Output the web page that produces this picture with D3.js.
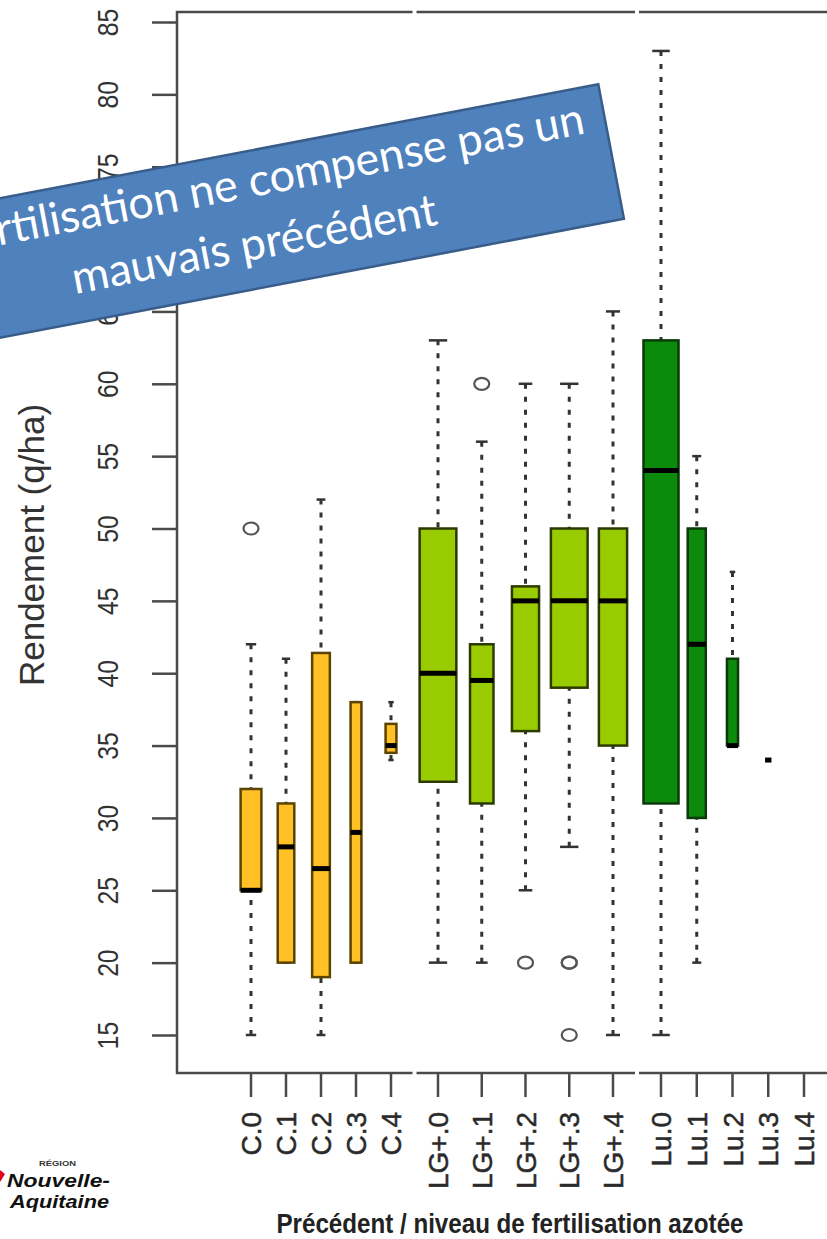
<!DOCTYPE html>
<html>
<head>
<meta charset="utf-8">
<script src="https://cdn.jsdelivr.net/npm/d3@7"></script>
<style>
  body { margin: 0; background: #fff; }
  svg { display: block; }
</style>
</head>
<body>
<div id="chart"></div>
<script>

// ---- data ----
var groups = ["C", "LG+", "Lu"];
var levels = ["0", "1", "2", "3", "4"];
var categories = ["C.0", "C.1", "C.2", "C.3", "C.4",
                  "LG+.0", "LG+.1", "LG+.2", "LG+.3", "LG+.4",
                  "Lu.0", "Lu.1", "Lu.2", "Lu.3", "Lu.4"];

// box summaries (q/ha); null = no observation
var whiskerLow  = [15, 20, 15, 20, 34,   20,   20, 25, 28, 15,  15, 20, 35, 34, null];
var q1          = [25, 20, 19, 20, 34.5, 32.5, 31, 36, 39, 35,  31, 30, 35, 34, null];
var medians     = [25, 28, 26.5, 29, 35, 40, 39.5, 45, 45, 45,  54, 42, 35, 34, null];
var q3          = [32, 31, 41.4, 38, 36.5, 50, 42, 46, 50, 50,  63, 50, 41, 34, null];
var whiskerHigh = [42, 41, 52, 38, 38,   63,   56, 60, 60, 65,  83, 55, 47, 34, null];
// approximate sample sizes (box width ~ sqrt(n))
var counts      = [11, 7, 8, 3, 3, 22, 9, 12, 22, 13, 30, 8, 3, 1, 0];

var outlierCat = ["C.0", "LG+.1", "LG+.2", "LG+.3", "LG+.3", "LG+.3"];
var outlierVal = [50, 60, 20, 20, 20, 15];

var yTicks = [15, 20, 25, 30, 35, 40, 45, 50, 55, 60, 65, 70, 75, 80, 85];

var bannerLines = ["La fertilisation ne compense pas un", "mauvais précédent"];
var yTitle = "Rendement (q/ha)";
var xTitle = "Précédent / niveau de fertilisation azotée";

// ---- layout ----
var width = 827, height = 1239;
var frame = {left: 177, top: 12, right: 850, bottom: 1073};

var fills   = {"C": "#FFC125", "LG+": "#99CC00", "Lu": "#0B8A0B"};
var borders = {"C": "#5c4300", "LG+": "#2c3a00", "Lu": "#0b3a0b"};

var svg = d3.select("#chart")
  .append("svg")
    .attr("width", width)
    .attr("height", height);

// Y scale
var y = d3.scaleLinear()
  .domain([15, 85])
  .range([1035, 22]);

// the picture is three pieces pasted side by side: one point scale per group
var groupRange = {"C": [251, 391], "LG+": [438, 613], "Lu": [661, 804]};
var xg = {};
groups.forEach(function(g) {
  xg[g] = d3.scalePoint().domain(levels).range(groupRange[g]);
});
function groupOf(cat) { return cat.slice(0, cat.lastIndexOf(".")); }
function xPos(cat) {
  return xg[groupOf(cat)](cat.slice(cat.lastIndexOf(".") + 1));
}

var nScale = d3.scaleSqrt().domain([0, d3.max(counts)]).range([0, 0.98]);
function boxWidth(i) {
  return xg[groupOf(categories[i])].step() * nScale(counts[i]);
}

// frame
svg.append("rect")
  .attr("x", frame.left)
  .attr("y", frame.top)
  .attr("width", frame.right - frame.left)
  .attr("height", frame.bottom - frame.top)
  .style("fill", "none")
  .style("stroke", "#4a4a4a")
  .style("stroke-width", 2.5);

// seams where the three pieces meet
var seams = [
  (xg["C"]("4") + xg["LG+"]("0")) / 2,
  (xg["LG+"]("4") + xg["Lu"]("0")) / 2
];
seams.forEach(function(s) {
  [frame.top, frame.bottom].forEach(function(yy) {
    svg.append("rect")
      .attr("x", s - 2).attr("y", yy - 3)
      .attr("width", 4).attr("height", 6)
      .style("fill", "#fff");
  });
});

// Y axis
var yAxis = svg.append("g")
  .attr("transform", "translate(" + frame.left + ",0)")
  .call(d3.axisLeft(y).tickValues(yTicks).tickSize(25).tickPadding(0).tickFormat(d3.format("d")));
yAxis.select(".domain").remove();
yAxis.selectAll(".tick line").style("stroke", "#4a4a4a").style("stroke-width", 2.5);
yAxis.selectAll(".tick text")
  .attr("x", 0)
  .attr("y", 0)
  .attr("dy", 0)
  .attr("transform", "translate(-59,0) rotate(-90) scale(0.85,1)")
  .style("text-anchor", "middle")
  .style("font-family", "'Liberation Sans', Arial, sans-serif")
  .style("font-size", "29px")
  .style("fill", "#333");

// y title
svg.append("text")
  .attr("transform", "translate(44,545) rotate(-90)")
  .style("text-anchor", "middle")
  .style("font-family", "'Liberation Sans', Arial, sans-serif")
  .style("font-size", "35px")
  .style("fill", "#333")
  .text(yTitle);

// X ticks and labels
var xAxisG = svg.append("g");
categories.forEach(function(c) {
  var xx = xPos(c);
  xAxisG.append("line")
    .attr("x1", xx).attr("x2", xx)
    .attr("y1", frame.bottom).attr("y2", frame.bottom + 24)
    .style("stroke", "#4a4a4a")
    .style("stroke-width", 2.5);
  xAxisG.append("text")
    .attr("transform", "translate(" + (xx + 10) + "," + 1112 + ") rotate(-90)")
    .style("text-anchor", "end")
    .style("font-family", "'Liberation Sans', Arial, sans-serif")
    .style("font-size", "28px")
    .style("fill", "#2a2a2a")
    .style("stroke", "#2a2a2a")
    .style("stroke-width", 0.5)
    .text(c);
});

// x title
svg.append("text")
  .attr("x", 510)
  .attr("y", 1233)
  .attr("textLength", 467)
  .attr("lengthAdjust", "spacingAndGlyphs")
  .style("text-anchor", "middle")
  .style("font-family", "'Liberation Sans Narrow', 'Arial Narrow', 'Liberation Sans', sans-serif")
  .style("font-weight", "bold")
  .style("font-size", "27px")
  .style("fill", "#222")
  .text(xTitle);

// boxes
var idx = d3.range(categories.length).filter(function(i) { return counts[i] > 0; });
var boxes = svg.append("g").selectAll("g")
  .data(idx)
  .enter()
  .append("g");

// whiskers with staples
boxes.each(function(i) {
  var g = d3.select(this);
  var cx = xPos(categories[i]);
  var w = boxWidth(i);
  [[whiskerHigh[i], q3[i]], [whiskerLow[i], q1[i]]].forEach(function(pair) {
    g.append("line")
      .attr("x1", cx).attr("x2", cx)
      .attr("y1", y(pair[0])).attr("y2", y(pair[1]))
      .style("stroke", "#333")
      .style("stroke-width", 3)
      .style("stroke-dasharray", "5,8");
    g.append("line")
      .attr("x1", cx - w / 4).attr("x2", cx + w / 4)
      .attr("y1", y(pair[0])).attr("y2", y(pair[0]))
      .style("stroke", "#333")
      .style("stroke-width", 2.5);
  });
});

boxes.append("rect")
  .attr("x", function(i) { return xPos(categories[i]) - boxWidth(i) / 2; })
  .attr("y", function(i) { return y(q3[i]); })
  .attr("width", function(i) { return boxWidth(i); })
  .attr("height", function(i) { return y(q1[i]) - y(q3[i]); })
  .style("fill", function(i) { return fills[groupOf(categories[i])]; })
  .style("stroke", function(i) { return borders[groupOf(categories[i])]; })
  .style("stroke-width", 2.5);

boxes.append("line")
  .attr("x1", function(i) { return xPos(categories[i]) - boxWidth(i) / 2; })
  .attr("x2", function(i) { return xPos(categories[i]) + boxWidth(i) / 2; })
  .attr("y1", function(i) { return y(medians[i]); })
  .attr("y2", function(i) { return y(medians[i]); })
  .style("stroke", "#000")
  .style("stroke-width", 5);

// outliers
svg.append("g").selectAll("ellipse")
  .data(d3.range(outlierVal.length))
  .enter()
  .append("ellipse")
    .attr("cx", function(i) { return xPos(outlierCat[i]); })
    .attr("cy", function(i) { return y(outlierVal[i]); })
    .attr("rx", 7.5)
    .attr("ry", 6)
    .style("fill", "none")
    .style("stroke", "#555")
    .style("stroke-width", 2.2);

// logo
var logo = svg.append("g");
logo.append("path")
  .attr("d", "M0,1170 L5,1174 L0,1182 Z")
  .style("fill", "#e2001a");
logo.append("text")
  .attr("x", 39).attr("y", 1166)
  .attr("textLength", 37)
  .attr("lengthAdjust", "spacingAndGlyphs")
  .style("font-family", "'Liberation Sans', Arial, sans-serif")
  .style("font-weight", "bold")
  .style("font-size", "7.5px")
  .style("fill", "#333")
  .text("RÉGION");
logo.append("text")
  .attr("x", 7).attr("y", 1187)
  .attr("textLength", 103)
  .attr("lengthAdjust", "spacingAndGlyphs")
  .style("font-family", "'Liberation Sans', Arial, sans-serif")
  .style("font-weight", "bold")
  .style("font-style", "italic")
  .style("font-size", "19px")
  .style("fill", "#111")
  .text("Nouvelle-");
logo.append("text")
  .attr("x", 10).attr("y", 1208)
  .attr("textLength", 99)
  .attr("lengthAdjust", "spacingAndGlyphs")
  .style("font-family", "'Liberation Sans', Arial, sans-serif")
  .style("font-weight", "bold")
  .style("font-style", "italic")
  .style("font-size", "19px")
  .style("fill", "#111")
  .text("Aquitaine");

// banner
var banner = svg.append("g")
  .attr("transform", "translate(611,151) rotate(-10.8)");
banner.append("rect")
  .attr("x", -715)
  .attr("y", -68)
  .attr("width", 715)
  .attr("height", 137)
  .style("fill", "#4F81BD")
  .style("stroke", "#385D8A")
  .style("stroke-width", 2.5);
banner.selectAll("text")
  .data(bannerLines)
  .enter()
  .append("text")
    .attr("x", -368)
    .attr("y", function(d, i) { return -22 + i * 62; })
    .style("text-anchor", "middle")
    .style("font-family", "Lato, 'Open Sans', sans-serif")
    .style("font-size", "45px")
    .style("fill", "#fff")
    .text(function(d) { return d; });

</script>
</body>
</html>
